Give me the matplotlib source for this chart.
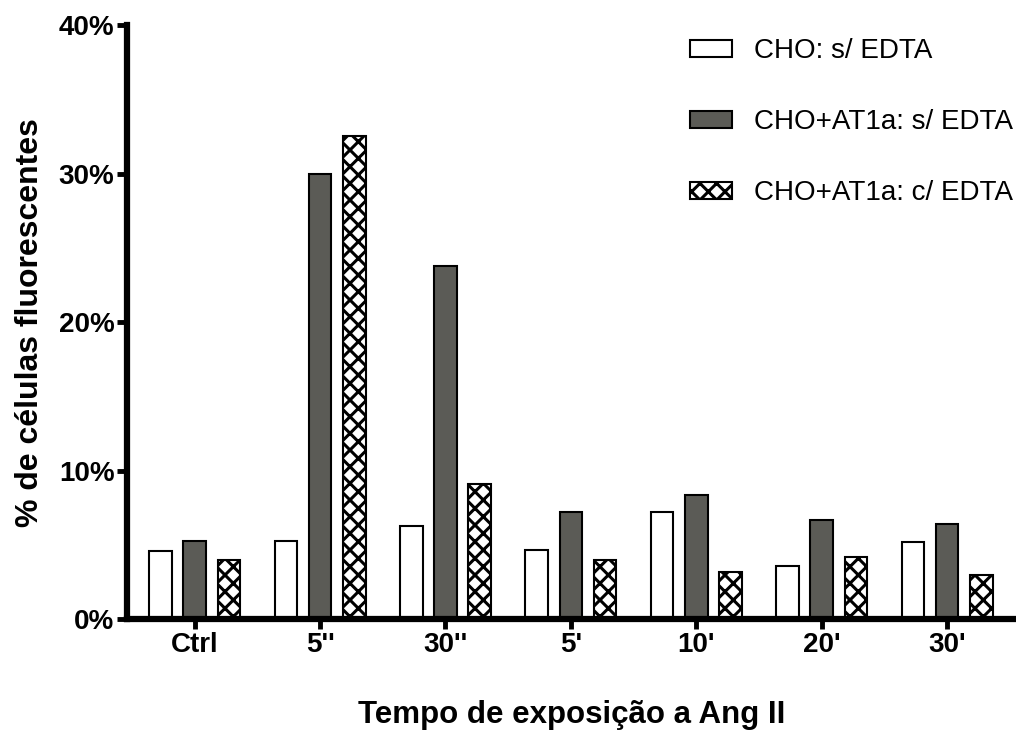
import matplotlib.pyplot as plt
import numpy as np
from matplotlib.ticker import FuncFormatter

plt.rcParams["font.family"] = ["Liberation Sans", "DejaVu Sans"]
plt.rcParams["hatch.linewidth"] = 2.2

categories = ["Ctrl", "5''", "30''", "5'", "10'", "20'", "30'"]
cho_s_edta = [4.6, 5.3, 6.3, 4.7, 7.2, 3.6, 5.2]
at1a_s_edta = [5.3, 30.0, 23.8, 7.2, 8.4, 6.7, 6.4]
at1a_c_edta = [4.0, 32.5, 9.1, 4.0, 3.2, 4.2, 3.0]
series_labels = ["CHO: s/ EDTA", "CHO+AT1a: s/ EDTA", "CHO+AT1a: c/ EDTA"]

fig = plt.figure(figsize=(10.16, 7.33), dpi=100)
ax = fig.add_axes([0.125, 0.155, 0.875, 0.811])

x = np.arange(len(categories))
w = 0.18
off = 0.273
ax.bar(x - off, cho_s_edta, w, color="white", edgecolor="black", linewidth=1.5,
       label=series_labels[0])
ax.bar(x, at1a_s_edta, w, color="#5b5b56", edgecolor="black", linewidth=1.5,
       label=series_labels[1])
ax.bar(x + off, at1a_c_edta, w, color="white", edgecolor="black", linewidth=1.5,
       hatch="xx", label=series_labels[2])

ax.set_xlim(-0.54, 6.55)
ax.set_ylim(0, 40)
ax.set_yticks([0, 10, 20, 30, 40])
ax.yaxis.set_major_formatter(FuncFormatter(lambda v, _: f"{v:.0f}%"))
ax.set_xticks(x)
ax.set_xticklabels(categories)

for s in ["top", "right"]:
    ax.spines[s].set_visible(False)
for s in ["left", "bottom"]:
    ax.spines[s].set_linewidth(4.5)
ax.tick_params(axis="both", width=3.5, length=7, labelsize=20, pad=2)
for lab in ax.get_xticklabels() + ax.get_yticklabels():
    lab.set_fontweight("bold")

ax.set_ylabel("% de células fluorescentes", fontsize=23, fontweight="bold",
              labelpad=10)
ax.set_xlabel("Tempo de exposição a Ang II", fontsize=22.5, fontweight="bold",
              labelpad=30)

ax.legend(loc="upper left", bbox_to_anchor=(0.605, 1.02), frameon=False,
          fontsize=20, handlelength=1.5, handleheight=0.55, labelspacing=1.62,
          handletextpad=0.8)

fig.savefig("out.png", dpi=100)
